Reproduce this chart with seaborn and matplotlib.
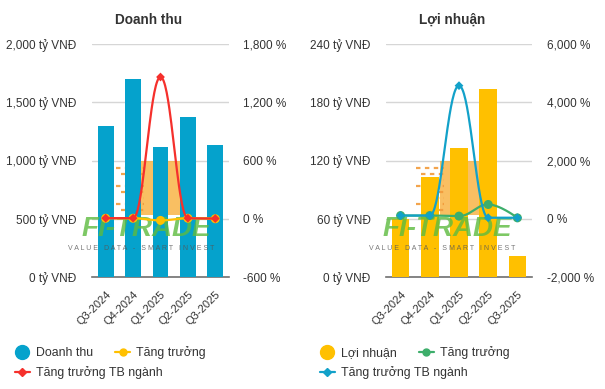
import numpy as np
import pandas as pd
import matplotlib
matplotlib.use("Agg")
import matplotlib.pyplot as plt
import seaborn as sns
from matplotlib.lines import Line2D
from matplotlib.patches import Rectangle
from matplotlib.ticker import FuncFormatter

# ---------------- data ----------------
quarters = ["Q3-2024", "Q4-2024", "Q1-2025", "Q2-2025", "Q3-2025"]

revenue = [1300, 1700, 1115, 1375, 1130]          # tỷ VNĐ
revenue_growth = [5, 5, -17, 5, 0]                # %
revenue_industry = [6, 6, 1460, 6, 2]             # %

profit = [60, 103, 133, 194, 22]                  # tỷ VNĐ
profit_growth = [110, 110, 90, 490, 30]           # %
profit_industry = [110, 110, 4570, 35, 35]        # %

BLUE_BAR = "#05A2CC"
YELLOW = "#FFC000"
RED = "#F5302C"
GREEN = "#3DAE6B"
BLUE_LINE = "#12A1C9"
TXT = "#333333"

sns.set_theme(style="white")
plt.rcParams["font.family"] = ["Liberation Sans", "DejaVu Sans"]

W, H = 605, 389
fig = plt.figure(figsize=(W / 100, H / 100), dpi=100)


def fx(px):
    return px / W


def fy(py):
    return 1 - py / H


def spline(xs, ys, n=40):
    """Highcharts-like smooth spline through the data points."""
    xs = np.asarray(xs, float)
    ys = np.asarray(ys, float)
    m = len(xs)
    lc = [(xs[i], ys[i]) for i in range(m)]
    rc = [(xs[i], ys[i]) for i in range(m)]
    s, d = 1.5, 2.5
    for i in range(1, m - 1):
        x0, y0 = xs[i - 1], ys[i - 1]
        x, y = xs[i], ys[i]
        x2, y2 = xs[i + 1], ys[i + 1]
        lx, ly = (s * x + x0) / d, (s * y + y0) / d
        rx, ry = (s * x + x2) / d, (s * y + y2) / d
        if rx != lx:
            corr = ((ry - ly) * (rx - x)) / (rx - lx) + y - ry
            ly += corr
            ry += corr
        if ly > y0 and ly > y:
            ly = max(y0, y); ry = 2 * y - ly
        elif ly < y0 and ly < y:
            ly = min(y0, y); ry = 2 * y - ly
        if ry > y2 and ry > y:
            ry = max(y2, y); ly = 2 * y - ry
        elif ry < y2 and ry < y:
            ry = min(y2, y); ly = 2 * y - ry
        lc[i] = (lx, ly)
        rc[i] = (rx, ry)
    px, py = [xs[0]], [ys[0]]
    t = np.linspace(0, 1, n)[1:]
    for i in range(1, m):
        P0 = np.array([xs[i - 1], ys[i - 1]])
        P1 = np.array(rc[i - 1])
        P2 = np.array(lc[i])
        P3 = np.array([xs[i], ys[i]])
        pts = ((1 - t)[:, None] ** 3 * P0 + 3 * ((1 - t) ** 2 * t)[:, None] * P1
               + 3 * ((1 - t) * t ** 2)[:, None] * P2 + (t ** 3)[:, None] * P3)
        px.extend(pts[:, 0]); py.extend(pts[:, 1])
    return np.array(px), np.array(py)


def logo_block(ax, cx_px):
    # soft orange logo block (behind bars)
    ax.add_patch(Rectangle((fx(cx_px - 18), fy(215)), fx(40), fy(161) - fy(215),
                           transform=fig.transFigure, facecolor="#F8B447",
                           alpha=0.85, zorder=1, edgecolor="none", clip_on=False))
    for k, yy in enumerate(range(168, 214, 6)):
        x0 = cx_px - 42 + (k % 3) * 5
        ax.add_line(Line2D([fx(x0), fx(cx_px - 14)], [fy(yy), fy(yy)],
                           transform=fig.transFigure, color="#F29A3A",
                           lw=1.6, ls=(0, (2, 2)), zorder=1.2, alpha=0.9, clip_on=False))


def make_panel(left_px, width_px, title, title_cx, bars, bar_color, growth, growth_color,
               growth_marker, industry, industry_color, ylim, yticks, y2lim, y2ticks,
               bar_width, wm_text_x, logo_cx, pad_l, pad_r):
    ax = fig.add_axes([fx(left_px), fy(277), fx(width_px), fy(44) - fy(277)])
    ax.patch.set_alpha(0)
    df = pd.DataFrame({"q": quarters, "v": bars})
    sns.barplot(data=df, x="q", y="v", color=bar_color, width=bar_width,
                saturation=1, ax=ax, zorder=3, edgecolor="none")
    ax.set_ylim(*ylim)
    ax.set_yticks(yticks)
    ax.yaxis.set_major_formatter(FuncFormatter(lambda v, p: f"{v:,.0f} tỷ VNĐ"))
    ax.set_xlim(-0.5, len(quarters) - 0.5)
    ax.grid(axis="y", color="#D6D6D6", lw=1, zorder=0)
    ax.set_axisbelow(True)
    for sp in ["top", "right", "left"]:
        ax.spines[sp].set_visible(False)
    ax.spines["bottom"].set_color("#707070")
    ax.spines["bottom"].set_linewidth(1.2)
    ax.set_xlabel(""); ax.set_ylabel("")
    ax.tick_params(axis="y", length=0, pad=pad_l, labelsize=8.5, labelcolor=TXT)
    ax.tick_params(axis="x", length=0, pad=9, labelsize=8, labelcolor=TXT)
    for lab in ax.get_xticklabels():
        lab.set_rotation(45)
        lab.set_ha("right")
        lab.set_rotation_mode("anchor")

    logo_block(ax, logo_cx)

    # watermark text over bars
    ax.text(fx(wm_text_x), fy(229), "FI-TRADE", transform=fig.transFigure,
            fontsize=20, fontweight="bold", fontstyle="italic", color="#5DBB3F",
            alpha=0.8, ha="center", va="center", zorder=6)
    ax.text(fx(wm_text_x - 5), fy(249), "V A L U E   D A T A   -   S M A R T   I N V E S T",
            transform=fig.transFigure, fontsize=5, color="#555555", alpha=0.8,
            ha="center", va="center", zorder=6)

    ax2 = ax.twinx()
    x = np.arange(len(quarters))
    sx, sy = spline(x, growth)
    ax2.plot(sx, sy, color=growth_color, lw=1.6, zorder=3)
    sns.scatterplot(x=x, y=growth, ax=ax2, color=growth_color, marker=growth_marker,
                    s=42, edgecolor="none", zorder=4, legend=False)
    sx, sy = spline(x, industry)
    ax2.plot(sx, sy, color=industry_color, lw=1.6, zorder=5)
    sns.scatterplot(x=x, y=industry, ax=ax2, color=industry_color, marker="D",
                    s=20, edgecolor="none", zorder=6, legend=False)
    ax2.set_ylim(*y2lim)
    ax2.set_yticks(y2ticks)
    ax2.yaxis.set_major_formatter(FuncFormatter(lambda v, p: f"{v:,.0f} %"))
    ax2.tick_params(axis="y", length=0, pad=pad_r, labelsize=8.5, labelcolor=TXT)
    ax2.grid(False)
    for sp in ["top", "right", "left", "bottom"]:
        ax2.spines[sp].set_visible(False)
    ax2.set_ylabel("")
    ax2.set_xlim(-0.5, len(quarters) - 0.5)

    fig.text(fx(title_cx), fy(20), title, ha="center", va="center",
             fontsize=9.8, fontweight="bold", color=TXT)
    return ax, ax2


make_panel(92, 137, "Doanh thu", 149, revenue, BLUE_BAR, revenue_growth, YELLOW, "o",
           revenue_industry, RED, (0, 2000), [0, 500, 1000, 1500, 2000],
           (-600, 1800), [-600, 0, 600, 1200, 1800], 0.58, 146, 158, 11, 10)
make_panel(386, 146, "Lợi nhuận", 452, profit, YELLOW, profit_growth, GREEN, "o",
           profit_industry, BLUE_LINE, (0, 240), [0, 60, 120, 180, 240],
           (-2000, 6000), [-2000, 0, 2000, 4000, 6000], 0.6, 447, 458, 11, 11)


def legends(x0_px, bar_label, bar_color, g_color, i_color):
    h_bar = Line2D([], [], ls="none", marker="o", ms=10, color=bar_color)
    h_g = Line2D([], [], color=g_color, lw=1.6, marker="o", ms=5)
    h_i = Line2D([], [], color=i_color, lw=1.6, marker="D", ms=4)
    common = dict(frameon=False, fontsize=8.9, handlelength=1.2, handletextpad=0.5,
                  columnspacing=1.8, borderpad=0, borderaxespad=0, loc="upper left",
                  labelcolor=TXT)
    fig.legend([h_bar, h_g], [bar_label, "Tăng trưởng"], ncol=2,
               bbox_to_anchor=(fx(x0_px), fy(346)), **common)
    fig.legend([h_i], ["Tăng trưởng TB ngành"], ncol=1,
               bbox_to_anchor=(fx(x0_px), fy(366)), **common)


legends(15, "Doanh thu", BLUE_BAR, YELLOW, RED)
legends(320, "Lợi nhuận", YELLOW, GREEN, BLUE_LINE)

fig.savefig("out.png", dpi=100)
